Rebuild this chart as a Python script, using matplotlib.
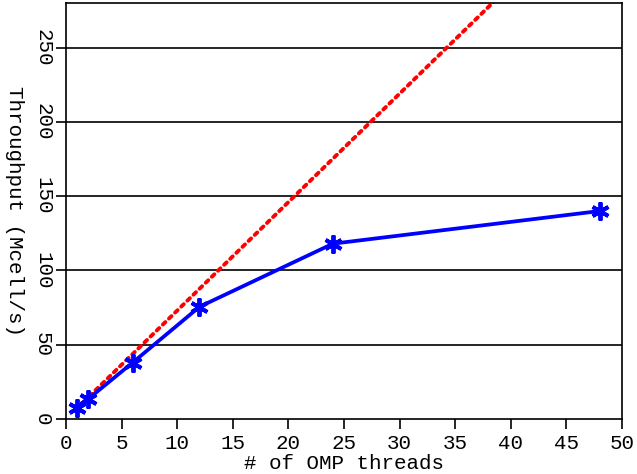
import matplotlib.pyplot as plt

threads = [1, 2, 6, 12, 24, 48]
throughput = [7.3, 13.5, 38, 75.5, 118, 140]
ideal = [throughput[0] * t for t in threads]

plt.rcParams['font.family'] = ['Liberation Mono', 'DejaVu Sans Mono']

fig = plt.figure(figsize=(6.37, 4.74), dpi=100)
ax = fig.add_axes([66 / 637, 55 / 474, 556 / 637, 416 / 474])

for yv in [50, 100, 150, 200, 250]:
    ax.axhline(yv, color='black', lw=1.2, zorder=1)

ax.plot(threads, ideal, color='red', lw=2.8, linestyle=(0, (0.9, 1.3)),
        dash_capstyle='round', zorder=2)
ax.plot(threads, throughput, color='blue', lw=2.7, marker=(6, 2, 0),
        markersize=13, markeredgewidth=2.8, zorder=3)

ax.set_xlim(0, 50)
ax.set_ylim(0, 280)
ax.set_xticks(range(0, 51, 5))
ax.set_yticks(range(0, 251, 50))
ax.tick_params(axis='both', direction='out', length=7, width=1.2,
               labelsize=15, colors='black')
ax.tick_params(axis='y', labelrotation=-90, pad=3)
for lab in ax.get_yticklabels():
    lab.set_va('center')
for sp in ax.spines.values():
    sp.set_linewidth(1.2)

ax.set_xlabel('# of OMP threads', fontsize=15, labelpad=1)
ax.set_ylabel('Throughput (Mcell/s)', fontsize=15, rotation=-90, labelpad=20)

fig.savefig('out.png', dpi=100)
